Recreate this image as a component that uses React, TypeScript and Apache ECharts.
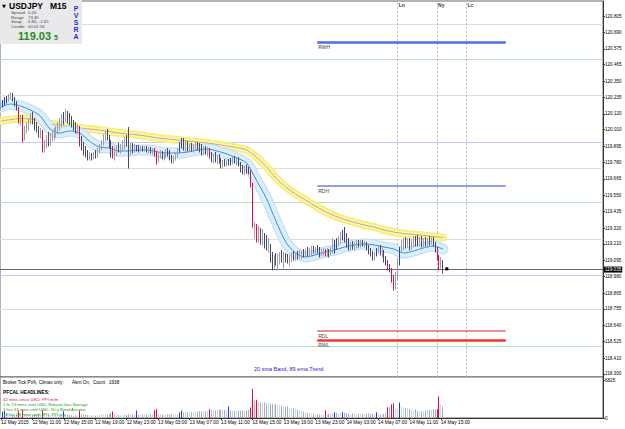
import React, { useEffect, useRef } from "react";
import * as echarts from "echarts";

const FONT = "Liberation Sans, Arial, sans-serif";

// ---- USDJPY M15 bars (index 0 = 12 May 2015 07:00) ----
const opens = [
120.161,120.189,120.203,120.224,120.210,120.245,120.252,120.224,120.189,120.168,
120.070,120.091,119.951,120.007,120.035,120.070,120.105,120.070,120.035,120.021,
119.979,120.000,119.867,119.909,119.937,119.923,119.958,119.972,119.993,120.007,
120.042,120.070,120.091,120.112,120.126,120.091,120.070,120.042,120.028,120.000,
120.021,119.916,119.895,119.853,119.832,119.818,119.832,119.818,119.839,119.825,
119.867,119.895,119.923,119.958,119.979,119.951,119.902,119.839,119.825,119.853,
119.881,119.867,119.895,119.916,119.937,119.916,119.867,119.888,119.874,119.881,
119.895,119.874,119.888,119.874,119.881,119.867,119.874,119.860,119.867,119.839,
119.790,119.832,119.846,119.818,119.839,119.860,119.846,119.811,119.797,119.811,
119.839,119.867,119.909,119.930,119.888,119.916,119.881,119.902,119.874,119.895,
119.909,119.888,119.874,119.853,119.867,119.853,119.867,119.818,119.804,119.825,
119.797,119.811,119.790,119.762,119.783,119.769,119.776,119.797,119.790,119.797,
119.783,119.797,119.769,119.734,119.720,119.741,119.727,119.713,119.622,119.349,
119.321,119.251,119.293,119.251,119.265,119.237,119.195,119.209,119.111,119.055,
119.097,119.083,119.111,119.132,119.104,119.125,119.111,119.090,119.118,119.132,
119.118,119.139,119.125,119.146,119.153,119.139,119.160,119.146,119.167,119.174,
119.160,119.181,119.167,119.139,119.160,119.167,119.139,119.160,119.139,119.160,
119.216,119.230,119.195,119.251,119.265,119.286,119.251,119.209,119.188,119.202,
119.188,119.209,119.223,119.202,119.223,119.209,119.216,119.181,119.153,119.139,
119.118,119.139,119.167,119.181,119.153,119.167,119.104,119.083,119.048,119.027,
118.957,118.901,118.985,119.083,119.167,119.216,119.230,119.209,119.237,119.195,
119.223,119.251,119.223,119.216,119.244,119.209,119.230,119.216,119.237,119.223,
119.244,119.209,119.167,119.111,119.055,119.083];

const highs = [
120.203,120.217,120.238,120.245,120.259,120.273,120.266,120.238,120.210,120.168,
120.112,120.112,120.035,120.063,120.091,120.126,120.133,120.091,120.063,120.035,
120.021,120.007,119.937,119.972,119.993,119.986,120.000,120.021,120.035,120.063,
120.091,120.119,120.133,120.154,120.140,120.126,120.105,120.077,120.063,120.049,
120.035,119.965,119.923,119.895,119.867,119.853,119.846,119.853,119.867,119.881,
119.909,119.937,119.979,120.000,120.014,119.972,119.937,119.895,119.888,119.902,
119.916,119.909,119.937,119.958,119.972,120.028,119.916,119.916,119.909,119.902,
119.902,119.895,119.895,119.895,119.895,119.888,119.888,119.881,119.881,119.860,
119.853,119.867,119.860,119.853,119.874,119.881,119.867,119.832,119.825,119.853,
119.881,119.923,119.951,119.951,119.937,119.930,119.916,119.916,119.909,119.923,
119.923,119.916,119.909,119.895,119.895,119.888,119.881,119.853,119.839,119.853,
119.832,119.839,119.811,119.797,119.804,119.797,119.804,119.811,119.818,119.825,
119.818,119.818,119.783,119.762,119.755,119.762,119.748,119.727,119.636,119.363,
119.349,119.335,119.321,119.314,119.286,119.272,119.251,119.209,119.153,119.132,
119.146,119.139,119.153,119.167,119.153,119.146,119.139,119.132,119.153,119.160,
119.153,119.160,119.167,119.160,119.174,119.174,119.188,119.181,119.195,119.195,
119.188,119.202,119.188,119.174,119.181,119.174,119.181,119.174,119.188,119.251,
119.237,119.251,119.265,119.293,119.307,119.328,119.286,119.251,119.223,119.230,
119.223,119.237,119.237,119.237,119.237,119.230,119.223,119.202,119.181,119.160,
119.153,119.181,119.195,119.202,119.188,119.167,119.125,119.097,119.069,119.041,
118.992,119.013,119.111,119.188,119.237,119.251,119.258,119.251,119.251,119.244,
119.265,119.265,119.272,119.258,119.265,119.251,119.258,119.251,119.265,119.258,
119.258,119.223,119.188,119.132,119.118,119.097];

const lows = [
120.147,120.168,120.182,120.196,120.210,120.224,120.210,120.175,120.147,120.056,
120.042,119.923,119.937,119.986,120.007,120.049,120.049,120.007,119.993,119.958,
119.951,119.853,119.853,119.881,119.895,119.902,119.930,119.937,119.958,119.979,
120.007,120.028,120.049,120.070,120.056,120.042,120.028,120.007,119.986,119.979,
119.895,119.867,119.832,119.818,119.797,119.797,119.797,119.804,119.811,119.818,
119.846,119.867,119.902,119.930,119.937,119.881,119.818,119.811,119.797,119.825,
119.853,119.846,119.860,119.874,119.895,119.741,119.832,119.846,119.853,119.860,
119.853,119.860,119.860,119.860,119.853,119.846,119.846,119.839,119.825,119.769,
119.783,119.811,119.804,119.797,119.818,119.825,119.797,119.776,119.776,119.797,
119.818,119.853,119.881,119.867,119.853,119.860,119.853,119.860,119.853,119.867,
119.867,119.853,119.832,119.832,119.839,119.825,119.811,119.783,119.776,119.783,
119.769,119.776,119.741,119.741,119.755,119.755,119.762,119.762,119.769,119.776,
119.762,119.755,119.713,119.699,119.692,119.706,119.699,119.608,119.328,119.251,
119.223,119.223,119.209,119.202,119.181,119.167,119.153,119.083,119.027,119.041,
119.062,119.027,119.069,119.083,119.041,119.083,119.076,119.055,119.083,119.097,
119.097,119.104,119.111,119.104,119.118,119.118,119.125,119.125,119.132,119.146,
119.139,119.146,119.118,119.125,119.132,119.125,119.125,119.118,119.132,119.146,
119.146,119.174,119.195,119.216,119.237,119.223,119.188,119.167,119.167,119.174,
119.167,119.181,119.188,119.188,119.195,119.188,119.167,119.139,119.125,119.097,
119.097,119.125,119.146,119.132,119.118,119.083,119.062,119.027,119.013,118.943,
118.887,118.894,118.957,119.062,119.153,119.167,119.181,119.188,119.167,119.174,
119.188,119.195,119.195,119.195,119.188,119.188,119.195,119.188,119.202,119.209,
119.195,119.153,119.097,119.027,119.041,119.006];

const closes = [
120.189,120.203,120.224,120.210,120.245,120.252,120.224,120.189,120.168,120.070,
120.091,119.951,120.007,120.035,120.070,120.105,120.070,120.035,120.021,119.979,
120.000,119.867,119.909,119.937,119.923,119.958,119.972,119.993,120.007,120.042,
120.070,120.091,120.112,120.126,120.091,120.070,120.042,120.028,120.000,120.021,
119.916,119.895,119.853,119.832,119.818,119.832,119.818,119.839,119.825,119.867,
119.895,119.923,119.958,119.979,119.951,119.902,119.839,119.825,119.853,119.881,
119.867,119.895,119.916,119.937,119.916,119.867,119.888,119.874,119.881,119.895,
119.874,119.888,119.874,119.881,119.867,119.874,119.860,119.867,119.839,119.790,
119.832,119.846,119.818,119.839,119.860,119.846,119.811,119.797,119.811,119.839,
119.867,119.909,119.930,119.888,119.916,119.881,119.902,119.874,119.895,119.909,
119.888,119.874,119.853,119.867,119.853,119.867,119.818,119.804,119.825,119.797,
119.811,119.790,119.762,119.783,119.769,119.776,119.797,119.790,119.797,119.783,
119.797,119.769,119.734,119.720,119.741,119.727,119.713,119.622,119.349,119.321,
119.251,119.293,119.251,119.265,119.237,119.195,119.209,119.111,119.055,119.097,
119.083,119.111,119.132,119.104,119.125,119.111,119.090,119.118,119.132,119.118,
119.139,119.125,119.146,119.153,119.139,119.160,119.146,119.167,119.174,119.160,
119.181,119.167,119.139,119.160,119.167,119.139,119.160,119.139,119.160,119.216,
119.230,119.195,119.251,119.265,119.286,119.251,119.209,119.188,119.202,119.188,
119.209,119.223,119.202,119.223,119.209,119.216,119.181,119.153,119.139,119.118,
119.139,119.167,119.181,119.153,119.167,119.104,119.083,119.048,119.027,118.957,
118.901,118.985,119.083,119.167,119.216,119.230,119.209,119.237,119.195,119.223,
119.251,119.223,119.216,119.244,119.209,119.230,119.216,119.237,119.223,119.244,
119.209,119.167,119.111,119.055,119.083,119.035];

const volumes = [
640,1150,1240,720,610,560,590,520,680,1320,
700,1450,820,640,590,530,560,610,540,620,
580,1380,760,640,520,480,510,470,530,560,
600,640,1200,720,580,520,490,460,510,470,
1350,780,690,620,540,480,450,500,460,520,
560,610,580,520,660,740,880,1170,720,610,
560,500,470,520,580,700,620,560,600,1350,
640,580,610,550,690,640,720,660,1400,1580,
820,700,640,610,560,620,700,680,620,660,
740,1050,1350,1020,1100,1050,1150,1020,1100,1200,
1140,1250,1180,1280,1220,1340,1580,1400,1480,1400,
1520,1450,1560,1500,1420,1480,2050,1300,1350,1250,
1320,1400,1280,1350,1300,1380,1420,1870,5250,3150,
3300,2900,2800,2650,2850,2600,2700,2500,2550,2400,
2450,2300,2350,2200,2100,2000,2050,1900,1800,1750,
1650,1500,1400,1250,1150,1050,950,880,800,760,
700,680,620,600,580,1400,700,760,800,850,
1050,880,820,900,1050,950,880,820,760,800,
850,780,720,760,700,740,800,860,780,720,
680,1050,620,580,640,700,760,1930,1900,2450,
2650,1750,1600,2800,2100,1950,1750,1850,1600,1500,
1400,1550,1300,1200,1150,1250,1300,1400,1450,1500,
1600,1500,1580,3850,2450,2100];

// PVSRA climax bars
const redBars = [9, 11, 21, 40, 57, 78, 79, 106, 127, 128, 130, 165, 197, 199, 200, 222, 223];
const blueBars = [1, 2, 32, 69, 91, 92, 116, 170, 174, 191, 203];
const pinkBars = [129];

// moving averages, read every 5 bars
const maIndex = [0,5,10,15,20,25,30,35,40,45,50,55,60,65,70,75,80,85,90,95,100,105,110,115,120,125,130,135,140,145,150,155,160,165,170,175,180,185,190,195,200,205,210,215,220,225];
const sma20 = [120.168,120.189,120.175,120.147,120.105,120.014,119.986,120.000,119.986,119.930,119.888,119.881,119.860,119.860,119.867,119.867,119.853,119.846,119.846,119.853,119.867,119.874,119.860,119.839,119.811,119.776,119.657,119.531,119.370,119.223,119.146,119.118,119.132,119.153,119.167,119.188,119.202,119.209,119.202,119.188,119.174,119.146,119.160,119.181,119.195,119.174];
const ema89 = [120.070,120.080,120.087,120.084,120.070,120.052,120.042,120.032,120.021,120.014,120.007,119.997,119.986,119.979,119.972,119.962,119.951,119.944,119.937,119.930,119.923,119.916,119.906,119.895,119.884,119.867,119.818,119.752,119.671,119.608,119.559,119.517,119.475,119.437,119.405,119.381,119.360,119.342,119.328,119.307,119.293,119.282,119.276,119.269,119.262,119.255];

// levels
const tanLevels = [120.749, 120.245, 119.741, 119.244, 118.747];
const greenLevels = [120.497, 119.496, 118.488];
const lavenderLevels = [119.923, 118.992];
const rangeNames = ["RWH", "RDH", "RDL", "RWL"];
const rangeValues = [120.623, 119.615, 118.600, 118.537];
const rangeStart = 161;
const rangeEnd = 257;
const sessionNames = ["Ln", "Ny", "Lc"];
const sessionIndex = [202, 222, 237];
const bidPrice = 119.035;
const bidIndex = 227;

const priceTicks = ["120.805","120.690","120.575","120.465","120.350","120.235","120.120","120.010","119.895","119.780","119.665","119.550","119.435","119.320","119.210","119.095","118.980","118.865","118.755","118.640","118.525","118.410","118.300"];
const volumeTicks = [0, 6825];
const timeLabels = ["12 May 2015","12 May 11:00","12 May 15:00","12 May 19:00","12 May 23:00","13 May 03:00","13 May 07:00","13 May 11:00","13 May 15:00","13 May 19:00","13 May 23:00","14 May 03:00","14 May 07:00","14 May 11:00","14 May 15:00"];
const BARS_PER_LABEL = 16;
const SLOTS = 307;

function priceColor(i: number) {
  if (redBars.includes(i)) return "#e0103c";
  if (blueBars.includes(i)) return "#1f3fe6";
  if (pinkBars.includes(i)) return "#f090a0";
  return closes[i] >= opens[i] ? "#9c9cab" : "#48486c";
}
function volColor(i: number) {
  if (redBars.includes(i)) return "#e0103c";
  if (blueBars.includes(i)) return "#1f3fe6";
  if (pinkBars.includes(i)) return "#f4a0b0";
  return closes[i] >= opens[i] ? "#cdd6e4" : "#a4b0c6";
}

function buildOption(): any {
  const slots = Array.from({ length: SLOTS }, (_, i) => String(i));
  const priceData = opens.map((o, i) => [i, o, highs[i], lows[i], closes[i]]);
  const volData = volumes.map((v, i) => [i, v]);
  const maPts = (arr: number[]) => arr.map((v, k) => [maIndex[k], v]);
  const tickVals = priceTicks.map((t) => parseFloat(t));
  const labelFn = (idx: number) => idx % BARS_PER_LABEL === 0 && idx / BARS_PER_LABEL < timeLabels.length;

  const line = (data: any[], color: string, width: number, z: number, extra: any = {}) => ({
    type: "line", xAxisIndex: 0, yAxisIndex: 0, data, symbol: "none", smooth: 0.3, silent: true, z,
    lineStyle: { color, width, cap: "round", join: "round" }, emphasis: { disabled: true }, ...extra,
  });

  const solid = (color: string, width: number) => ({ color, width, type: "solid" });
  const levelData: any[] = [
    ...tanLevels.map((v) => ({ yAxis: v, lineStyle: solid("#e6dcc6", 1) })),
    ...greenLevels.map((v) => ({ yAxis: v, lineStyle: solid("#b6e2b6", 1) })),
    ...lavenderLevels.map((v) => ({ yAxis: v, lineStyle: solid("#c8c8f2", 1) })),
    ...sessionIndex.map((x) => ({ xAxis: x, lineStyle: { color: "#bcbcbc", width: 1, type: [2, 2] } })),
    ...rangeNames.map((n, k) => {
      const isHigh = n.endsWith("H");
      const thick = n.startsWith("RW");
      const color = isHigh ? (thick ? "#4e6ee8" : "#6a7fe0") : thick ? "#f03636" : "#e66a6a";
      return [
        {
          coord: [rangeStart, rangeValues[k]],
          lineStyle: solid(color, thick ? 2.5 : 1.5),
          label: { show: true, formatter: n, position: "insideStartBottom", distance: [1, 2], fontSize: 5, color: "#444", fontFamily: FONT },
        },
        { coord: [rangeEnd, rangeValues[k]] },
      ];
    }),
    {
      yAxis: bidPrice, lineStyle: solid("#5d6d6d", 1),
      label: { show: true, position: "end", formatter: bidPrice.toFixed(3), backgroundColor: "#000", color: "#fff", fontSize: 4.6, padding: [1, 1, 0, 1], distance: 1, fontFamily: FONT },
    },
  ];

  return {
    animation: false,
    backgroundColor: "#ffffff",
    textStyle: { fontFamily: FONT },
    grid: [
      { left: 0, top: 1, width: 603, height: 376, show: true, borderColor: "#666", borderWidth: 1, backgroundColor: "#fff", containLabel: false, outerBoundsMode: "none" },
      { left: 0, top: 377, width: 603, height: 41, show: true, borderColor: "#666", borderWidth: 1, backgroundColor: "#fff", containLabel: false, outerBoundsMode: "none" },
    ],
    xAxis: [
      { type: "category", gridIndex: 0, data: slots, boundaryGap: true, axisLine: { show: false }, axisTick: { show: false }, axisLabel: { show: false }, splitLine: { show: false } },
      {
        type: "category", gridIndex: 1, data: slots, boundaryGap: true,
        axisLine: { show: true, lineStyle: { color: "#333" } },
        axisTick: { show: true, alignWithLabel: true, interval: labelFn, length: 2, lineStyle: { color: "#333" } },
        axisLabel: { show: true, interval: labelFn, formatter: (_v: string, idx: number) => timeLabels[idx / BARS_PER_LABEL], align: "left", fontSize: 4.8, color: "#000", margin: 2, fontFamily: FONT },
        splitLine: { show: false },
      },
    ],
    yAxis: [
      {
        type: "value", gridIndex: 0, position: "right", min: 118.278, max: 120.91, scale: true,
        axisLine: { show: true, lineStyle: { color: "#333" } },
        axisTick: { show: true, customValues: tickVals, length: 2, lineStyle: { color: "#333" } },
        axisLabel: { show: true, customValues: tickVals, formatter: (v: number) => v.toFixed(3), fontSize: 4.6, color: "#000", margin: 2, fontFamily: FONT },
        splitLine: { show: false },
      },
      {
        type: "value", gridIndex: 1, position: "right", min: 0, max: 7364,
        axisLine: { show: true, lineStyle: { color: "#333" } },
        axisTick: { show: true, customValues: volumeTicks, length: 2, lineStyle: { color: "#333" } },
        axisLabel: { show: true, customValues: volumeTicks, formatter: (v: number) => String(v), fontSize: 4.6, color: "#000", margin: 2, fontFamily: FONT },
        splitLine: { show: false },
      },
    ],
    series: [
      line(maPts(ema89), "#f6f07a", 8, 2, {
        markLine: { silent: true, symbol: ["none", "none"], z: 1, animation: false, label: { show: false }, emphasis: { disabled: true }, data: levelData },
      }),
      line(maPts(ema89), "#fbf8ae", 4, 2),
      line(maPts(ema89), "#c4a0a0", 1, 2),
      line(maPts(sma20), "#bcdcf6", 11, 2),
      line(maPts(sma20), "#ddeefb", 9, 2),
      line(maPts(sma20), "#3b8de4", 1, 2, {
        markPoint: {
          silent: true, z: 6, animation: false,
          data: [
            ...sessionNames.map((n, k) => ({
              coord: [sessionIndex[k], 120.882], name: n, symbol: "rect", symbolSize: 0.1,
              itemStyle: { color: "rgba(0,0,0,0)" },
              label: { show: true, formatter: n, position: "right", distance: 1, fontSize: 5, fontWeight: "bold", color: "#343468", fontFamily: FONT },
            })),
            { coord: [bidIndex, bidPrice], symbol: "rect", symbolSize: 3, itemStyle: { color: "#000" }, label: { show: false } },
          ],
        },
      }),
      {
        type: "custom", name: "USDJPY", xAxisIndex: 0, yAxisIndex: 0, z: 3, silent: true,
        data: priceData, encode: { x: 0, y: [1, 2, 3, 4] },
        renderItem: (_p: any, api: any) => {
          const i = api.value(0);
          const hi = api.coord([i, api.value(2)]);
          const lo = api.coord([i, api.value(3)]);
          const x = Math.floor(hi[0]) + 0.5;
          return { type: "line", shape: { x1: x, y1: hi[1], x2: x, y2: lo[1] + 0.5 }, style: { stroke: priceColor(i), lineWidth: 1 } };
        },
      },
      {
        type: "custom", name: "Volume", xAxisIndex: 1, yAxisIndex: 1, z: 3, silent: true,
        data: volData, encode: { x: 0, y: 1 },
        renderItem: (_p: any, api: any) => {
          const i = api.value(0);
          const top = api.coord([i, api.value(1)]);
          const base = api.coord([i, 0]);
          return { type: "rect", shape: { x: Math.floor(top[0]), y: top[1], width: 1, height: base[1] - top[1] }, style: { fill: volColor(i) } };
        },
      },
    ],
    graphic: [
      { type: "rect", z: 100, shape: { x: 0, y: 0, width: 82, height: 44 }, style: { fill: "#e9e9eb" } },
      { type: "text", z: 101, x: 2, y: 6, style: { text: "▼", fontSize: 5, fill: "#000", verticalAlign: "middle", fontFamily: "DejaVu Sans" } },
      { type: "text", z: 101, x: 9, y: 6, style: { text: "USDJPY   M15", fontSize: 8.5, fontWeight: "bold", fill: "#000", verticalAlign: "middle", fontFamily: FONT } },
      ...["Spread", "Range", "Swap", "Candle"].map((t, k) => ({ type: "text", z: 101, x: 11, y: 12.5 + k * 4.5, style: { text: t, fontSize: 4.3, fill: "#444", verticalAlign: "middle", fontFamily: FONT } })),
      ...["0.20", "73.45", "0.80, -1.65", "00:01:56"].map((t, k) => ({ type: "text", z: 101, x: 28, y: 12.5 + k * 4.5, style: { text: t, fontSize: 4.3, fill: "#444", verticalAlign: "middle", fontFamily: FONT } })),
      { type: "text", z: 101, x: 18, y: 36, style: { text: "119.03", fontSize: 11, fontWeight: "bold", fill: "#228b22", verticalAlign: "middle", fontFamily: FONT } },
      { type: "text", z: 101, x: 54, y: 37, style: { text: "5", fontSize: 7, fontWeight: "bold", fill: "#228b22", verticalAlign: "middle", fontFamily: FONT } },
      ...["P", "V", "S", "R", "A"].map((t, k) => ({ type: "text", z: 101, x: 76, y: 8 + k * 7, style: { text: t, fontSize: 7, fontWeight: "bold", fill: "#2030d0", align: "center", verticalAlign: "middle", fontFamily: FONT } })),
      { type: "text", z: 101, x: 254, y: 369, style: { text: "20 sma Band, 89 ema Trend", fontSize: 5.5, fill: "#2828c8", verticalAlign: "middle", fontFamily: FONT } },
      { type: "text", z: 101, x: 3, y: 382, style: { text: "Broker Tick PVA, Climax only:", fontSize: 4.6, fill: "#000", verticalAlign: "middle", fontFamily: FONT } },
      { type: "text", z: 101, x: 72, y: 382, style: { text: "Alert On,", fontSize: 4.6, fill: "#000", verticalAlign: "middle", fontFamily: FONT } },
      { type: "text", z: 101, x: 93, y: 382, style: { text: "Count", fontSize: 4.6, fill: "#000", verticalAlign: "middle", fontFamily: FONT } },
      { type: "text", z: 101, x: 109, y: 382, style: { text: "1938", fontSize: 4.6, fill: "#000", verticalAlign: "middle", fontFamily: FONT } },
      { type: "text", z: 101, x: 3, y: 392.5, style: { text: "PFCAL HEADLINES:", fontSize: 4.8, fontWeight: "bold", fill: "#000", verticalAlign: "middle", fontFamily: FONT } },
      { type: "text", z: 101, x: 3, y: 399, style: { text: "42 mins since USD: PPI m/m", fontSize: 4.3, fill: "#e01030", verticalAlign: "middle", fontFamily: FONT } },
      { type: "text", z: 101, x: 3, y: 404, style: { text: "1 hr 13 mins until USD: Natural Gas Storage", fontSize: 4.3, fill: "#1a9a1a", verticalAlign: "middle", fontFamily: FONT } },
      { type: "text", z: 101, x: 3, y: 409, style: { text: "3 hrs 43 mins until USD: 30-y Bond Auction", fontSize: 4.3, fill: "#1a9a1a", verticalAlign: "middle", fontFamily: FONT } },
      { type: "text", z: 101, x: 3, y: 414, style: { text: "18 hrs 28 mins until JPY: PPI y/y", fontSize: 4.3, fill: "#1a9a1a", verticalAlign: "middle", fontFamily: FONT } },
    ],
  };
}

export default function App() {
  const ref = useRef<HTMLDivElement>(null);
  useEffect(() => {
    if (!ref.current) return;
    const chart = echarts.init(ref.current, null, { renderer: "svg" });
    chart.setOption(buildOption());
    return () => chart.dispose();
  }, []);
  return <div ref={ref} style={{ position: "fixed", left: 0, top: 0, width: 625, height: 429, background: "#fff" }} />;
}
